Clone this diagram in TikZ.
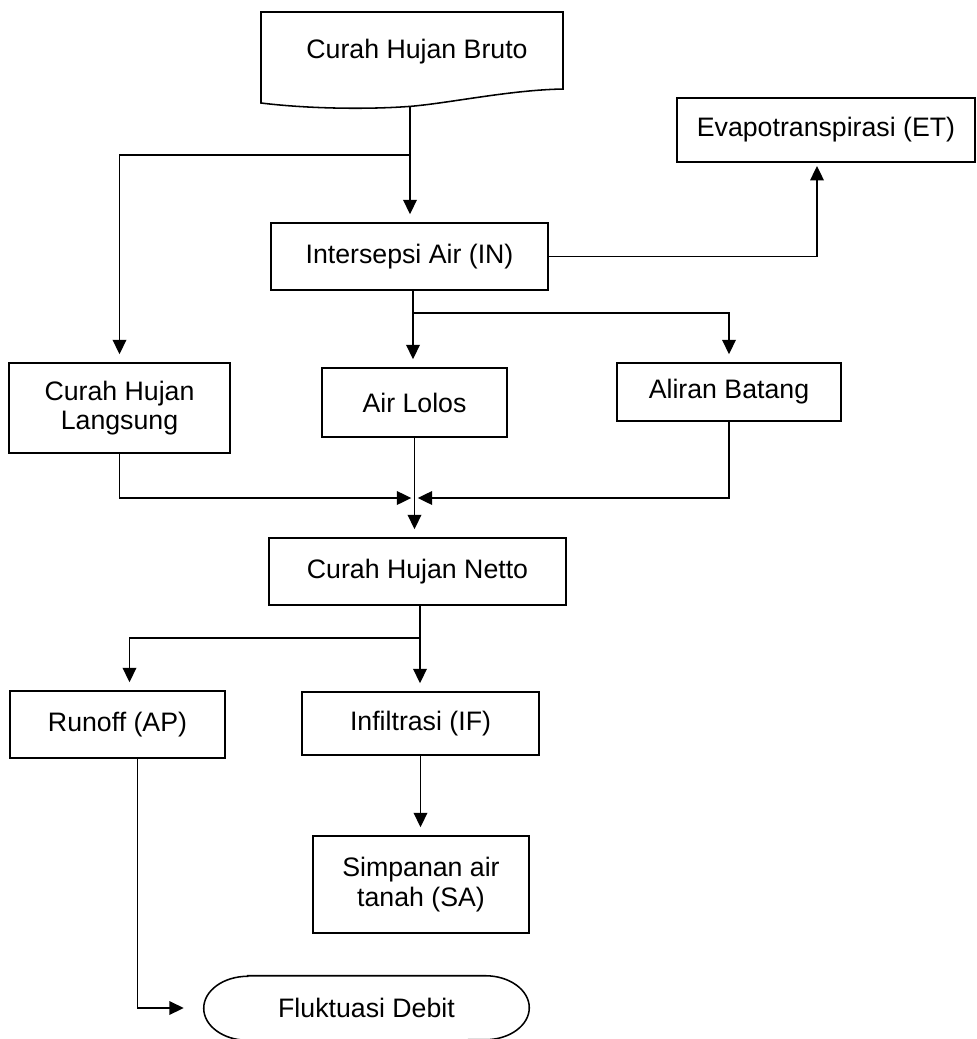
\documentclass[tikz,border=0pt]{standalone}
\usepackage{fontspec}
\setmainfont{Liberation Sans}
\usetikzlibrary{arrows.meta}

\begin{document}
\begin{tikzpicture}[
    flowBox/.style={rectangle, draw, line width=1.1pt, font=\fontsize{19}{21}\selectfont, align=center, inner sep=0pt},
    arrow/.style={-{Triangle[length=3.6mm,width=3.4mm]}, line width=1.1pt, shorten >=0.2cm}
]
\useasboundingbox (0,0) rectangle (24.425,-25.975);

% Curah Hujan Bruto (document shape)
\draw[line width=1.1pt] (6.525,-0.3) -- (14.075,-0.3) -- (14.075,-2.225)
    .. controls (12.75,-2.25) and (11.25,-2.575) .. (10.275,-2.6575)
    .. controls (9.25,-2.7375) and (7.75,-2.725) .. (6.525,-2.575) -- cycle;
\node[font=\fontsize{19}{21}\selectfont] (bruto) at (10.425,-1.3) {Curah Hujan Bruto};
\coordinate (brutoBase) at (10.25,-2.66);
\coordinate (brutoSplit) at (10.25,-3.875);

\node[flowBox, minimum width=7.45cm, minimum height=1.6cm] (et) at (20.65,-3.25) {Evapotranspirasi (ET)};
\node[flowBox, minimum width=6.925cm, minimum height=1.675cm] (inter) at (10.2375,-6.4125) {Intersepsi Air (IN)};
\coordinate (interBase) at (10.325,-7.25);
\coordinate (interSplit) at (10.325,-7.825);

\node[flowBox, minimum width=5.525cm, minimum height=2.25cm] (chl) at (2.9875,-10.2) {Curah Hujan\\Langsung};
\node[flowBox, minimum width=4.625cm, minimum height=1.725cm] (lolos) at (10.3625,-10.0625) {Air Lolos};
\node[flowBox, minimum width=5.6cm, minimum height=1.45cm] (batang) at (18.225,-9.8) {Aliran Batang};
\coordinate (merge) at (10.3625,-12.45);

\node[flowBox, minimum width=7.425cm, minimum height=1.675cm] (netto) at (10.4375,-14.2875) {Curah Hujan Netto};
\coordinate (nettoBase) at (10.5,-15.125);
\coordinate (nettoSplit) at (10.5,-15.95);

\node[flowBox, minimum width=5.375cm, minimum height=1.675cm] (runoff) at (2.9375,-18.1125) {Runoff (AP)};
\node[flowBox, minimum width=5.925cm, minimum height=1.575cm] (infil) at (10.5125,-18.0875) {Infiltrasi (IF)};
\node[flowBox, minimum width=5.4cm, minimum height=2.425cm] (simpan) at (10.525,-22.1125) {Simpanan air\\tanah (SA)};

% Fluktuasi Debit (terminator)
\node[font=\fontsize{19}{21}\selectfont, minimum width=8.125cm, minimum height=1.6cm, inner sep=0pt] (fluk) at (9.1625,-25.2) {Fluktuasi Debit};
\draw[line width=1.1pt] ([xshift=1.1cm]fluk.north west) -- ([xshift=-1.1cm]fluk.north east)
    arc[start angle=90, end angle=-90, x radius=1.1cm, y radius=0.8cm]
    -- ([xshift=1.1cm]fluk.south west)
    arc[start angle=270, end angle=90, x radius=1.1cm, y radius=0.8cm] -- cycle;

\draw[arrow] (brutoBase) -- (brutoBase |- inter.north);
\draw[arrow] (brutoSplit) -| (chl.north);
\draw[arrow, shorten >=0.08cm] (inter.east) -| ([xshift=-0.225cm]et.south);
\draw[arrow] (interBase) -- (interBase |- lolos.north);
\draw[arrow] (interSplit) -| (batang.north);
\draw[arrow, shorten >=0.08cm] (chl.south) |- (merge);
\draw[arrow, shorten >=0.08cm] (batang.south) |- (merge);
\draw[arrow] (lolos.south) -- (lolos.south |- netto.north);
\draw[arrow] (nettoBase) -- (nettoBase |- infil.north);
\draw[arrow] (nettoSplit) -| ([xshift=0.3cm]runoff.north);
\draw[arrow] (infil.south) -- (infil.south |- simpan.north);
\draw[arrow, shorten >=0.5cm] ([xshift=0.5cm]runoff.south) |- (fluk.west);

\end{tikzpicture}
\end{document}
